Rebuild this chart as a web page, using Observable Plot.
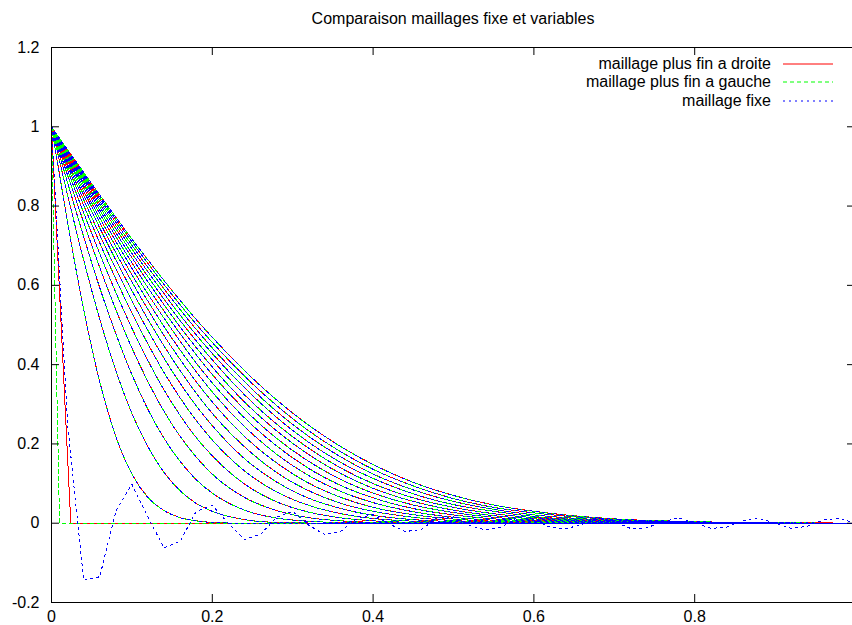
<!DOCTYPE html>
<html><head><meta charset="utf-8">
<script src="https://cdn.jsdelivr.net/npm/d3@7"></script>
<script src="https://cdn.jsdelivr.net/npm/@observablehq/plot@0.6"></script>
<style>
html,body{margin:0;padding:0;background:#fff;overflow:hidden;}
#wrap{position:relative;width:856px;height:625px;font-family:"Liberation Sans",Arial,Helvetica,sans-serif;color:#000;}
#chart{position:absolute;left:0;top:0;}
#title{position:absolute;left:51px;width:804px;top:9px;text-align:center;font-size:16px;line-height:20px;}
.lrow{position:absolute;left:0;width:771px;text-align:right;font-size:16px;line-height:18px;}
.lsw{position:absolute;left:783px;}
</style></head>
<body><div id="wrap"><div id="chart"></div><div id="title"></div><div id="legend"></div></div>
<script>
const titleText = "Comparaison maillages fixe et variables";
const xTicks = [0, 0.2, 0.4, 0.6, 0.8, 1];
const xTickLabels = [0, 0.2, 0.4, 0.6, 0.8];
const yTicks = [-0.2, 0, 0.2, 0.4, 0.6, 0.8, 1, 1.2];
const seriesNames = ["maillage plus fin a droite", "maillage plus fin a gauche", "maillage fixe"];
const seriesColors = ["#ff0000", "#00ff00", "#0000ff"];
const seriesDash = ["none", "4,3", "2,4"];

// initial profiles (t = 0)
const initRedX = [0, 0.024, 1];
const initRedY = [1, 0, 0];
const initGreenX = [0, 0.01, 1];
const initGreenY = [1, 0, 0];
const initBlueX = [0,0.02,0.04,0.06,0.08,0.10,0.12,0.14,0.16,0.18,0.20,0.22,0.24,0.26,0.28,0.30,0.32,0.34,0.36,0.38,0.40,0.42,0.44,0.46,0.48,0.50,0.52,0.54,0.56,0.58,0.60,0.62,0.64,0.66,0.68,0.70,0.72,0.74,0.76,0.78,0.80,0.82,0.84,0.86,0.88,0.90,0.92,0.94,0.96,0.98,1.00];
const initBlueY = [1,0.25,-0.144,-0.135,0.03,0.098,0.015,-0.062,-0.046,0.03,0.045,0.0,-0.041,-0.028,0.015,0.03,-0.005,-0.029,-0.02,0.012,0.022,-0.002,-0.021,-0.016,0.014,0.016,-0.006,-0.017,-0.01,0.015,0.01,-0.01,-0.014,-0.003,0.014,0.004,-0.013,-0.012,0.004,0.013,0.002,-0.013,-0.01,0.006,0.012,0.0,-0.013,-0.008,0.008,0.012,0.0];

// later profiles, shared by the three meshes
const profileX = [0,0.02,0.04,0.06,0.08,0.10,0.12,0.14,0.16,0.18,0.20,0.24,0.28,0.32,0.36,0.40,0.45,0.50,0.55,0.60,0.70,0.80,0.90,1.00];
const profileValues = [
  [1,.759,.539,.357,.219,.124,.065,.032,.014,.006,.002,0,0,0,0,0,0,0,0,0,0,0,0,0],
  [1,.828,.664,.515,.385,.277,.193,.128,.082,.050,.030,.009,.002,.0005,0,0,0,0,0,0,0,0,0,0],
  [1,.859,.723,.594,.478,.375,.287,.214,.156,.110,.076,.033,.013,.005,.0015,.0004,0,0,0,0,0,0,0,0],
  [1,.878,.759,.645,.539,.442,.357,.282,.219,.167,.124,.065,.032,.014,.006,.002,.0006,0,0,0,0,0,0,0],
  [1,.891,.783,.680,.582,.492,.410,.336,.272,.216,.170,.099,.054,.028,.0135,.006,.002,.0006,0,0,0,0,0,0],
  [1,.900,.802,.707,.616,.530,.452,.380,.316,.259,.210,.132,.079,.045,.024,.012,.005,.0018,.0006,.0002,0,0,0,0],
  [1,.907,.816,.727,.642,.561,.486,.416,.353,.296,.246,.163,.104,.063,.037,.020,.009,.004,.0015,.0005,0,0,0,0],
  [1,.913,.828,.745,.664,.587,.514,.447,.385,.328,.277,.193,.128,.082,.050,.030,.015,.0066,.0029,.0011,.0001,0,0,0],
  [1,.918,.838,.759,.682,.609,.539,.473,.413,.357,.306,.219,.152,.101,.065,.040,.0215,.0105,.0049,.0022,.0003,0,0,0],
  [1,.922,.846,.770,.698,.627,.560,.496,.437,.382,.331,.244,.174,.120,.080,.052,.029,.015,.0075,.0036,.0007,.0001,0,0],
  [1,.926,.853,.781,.711,.643,.578,.517,.459,.404,.354,.266,.195,.138,.095,.064,.037,.021,.011,.0055,.0012,.0002,0,0],
  [1,.929,.859,.790,.723,.657,.594,.535,.478,.425,.375,.287,.214,.156,.110,.076,.046,.027,.015,.0078,.0019,.0004,.0001,0],
  [1,.932,.865,.798,.733,.670,.609,.551,.495,.443,.394,.306,.233,.173,.125,.088,.055,.033,.019,.011,.0029,.0007,.0001,0],
  [1,.935,.870,.805,.743,.681,.622,.565,.511,.460,.412,.324,.250,.189,.139,.100,.064,.040,.024,.014,.0041,.0011,.0002,0],
  [1,.937,.874,.812,.751,.692,.634,.579,.525,.475,.428,.342,.267,.204,.153,.113,.074,.047,.030,.017,.0056,.0016,.0003,.0001],
  [1,.939,.878,.818,.759,.701,.645,.591,.539,.489,.442,.357,.282,.219,.167,.124,.084,.055,.035,.021,.0071,.0022,.0006,.0001],
  [1,.941,.881,.823,.766,.710,.655,.602,.551,.502,.456,.371,.297,.233,.180,.136,.094,.062,.040,.026,.0092,.0029,.0008,.0002],
  [1,.942,.885,.828,.772,.717,.664,.612,.562,.514,.469,.385,.311,.247,.193,.148,.103,.070,.046,.030,.011,.0039,.0011,.0003]
];

// build tables
const initX = [initRedX, initGreenX, initBlueX];
const initY = [initRedY, initGreenY, initBlueY];
const initRows = [];
seriesNames.forEach((s, si) => {
  initX[si].forEach((x, i) => initRows.push({series: si, x, y: initY[si][i]}));
});
const profRows = [];
profileValues.forEach((vals, ci) => {
  vals.forEach((v, i) => profRows.push({curve: ci, x: profileX[i], y: v}));
});

const W = 856, H = 625, mL = 51, mR = 1, mT = 47, mB = 23;
const frameW = W - mL - mR, frameH = H - mT - mB, tk = 8;

const marks = [];
seriesNames.forEach((s, si) => {
  marks.push(Plot.line(initRows.filter(d => d.series === si), {x: "x", y: "y", stroke: seriesColors[si], strokeWidth: 1, strokeDasharray: seriesDash[si], shapeRendering: "crispEdges"}));
  marks.push(Plot.line(profRows, {x: "x", y: "y", z: "curve", stroke: seriesColors[si], strokeWidth: 1, strokeDasharray: seriesDash[si], curve: "monotone-x", shapeRendering: "crispEdges"}));
});

const chart = Plot.plot({
  width: W, height: H,
  marginLeft: mL, marginRight: mR, marginTop: mT, marginBottom: mB,
  style: {fontFamily: '"Liberation Sans", Arial, Helvetica, sans-serif', fontSize: "16px", background: "#fff", overflow: "visible"},
  x: {domain: [0, 1]},
  y: {domain: [-0.2, 1.2]},
  marks: [
    ...marks,
    Plot.frame({stroke: "#000", strokeWidth: 1}),
    Plot.tickX(xTicks, {x: d => d, insetTop: frameH - tk, stroke: "#000"}),
    Plot.tickX(xTicks, {x: d => d, insetBottom: frameH - tk, stroke: "#000"}),
    Plot.tickY(yTicks, {y: d => d, insetRight: frameW - tk, stroke: "#000"}),
    Plot.tickY(yTicks, {y: d => d, insetLeft: frameW - tk, stroke: "#000"}),
    Plot.axisX({ticks: xTickLabels, tickSize: 0, tickPadding: 8, tickFormat: d => String(d), label: null, fontSize: 16}),
    Plot.axisY({ticks: yTicks, tickSize: 0, tickPadding: 12, tickFormat: d => String(d), label: null, fontSize: 16})
  ]
});
document.getElementById("chart").appendChild(chart);
document.getElementById("title").textContent = titleText;

const legend = document.getElementById("legend");
const rowY = [64, 82.3, 100.7];
seriesNames.forEach((s, si) => {
  const t = document.createElement("div");
  t.className = "lrow";
  t.style.top = (rowY[si] - 9) + "px";
  t.textContent = s;
  legend.appendChild(t);
  const svg = document.createElementNS("http://www.w3.org/2000/svg", "svg");
  svg.setAttribute("class", "lsw");
  svg.setAttribute("width", "50");
  svg.setAttribute("height", "4");
  svg.style.top = (rowY[si] - 2) + "px";
  const ln = document.createElementNS("http://www.w3.org/2000/svg", "line");
  ln.setAttribute("x1", "0"); ln.setAttribute("x2", "50");
  ln.setAttribute("y1", "2"); ln.setAttribute("y2", "2");
  ln.setAttribute("stroke", seriesColors[si]);
  ln.setAttribute("stroke-width", "1");
  if (seriesDash[si] !== "none") ln.setAttribute("stroke-dasharray", seriesDash[si]);
  svg.appendChild(ln);
  legend.appendChild(svg);
});
</script>
</body></html>
